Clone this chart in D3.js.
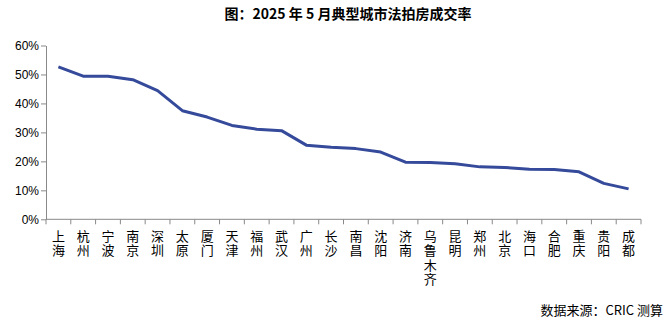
<!DOCTYPE html>
<html><head><meta charset="utf-8">
<script src="https://cdn.jsdelivr.net/npm/d3@7"></script>
<style>body{margin:0;background:#fff}svg{display:block}</style>
</head><body>
<script>
const categories = ["上海","杭州","宁波","南京","深圳","太原","厦门","天津","福州","武汉","广州","长沙","南昌","沈阳","济南","乌鲁木齐","昆明","郑州","北京","海口","合肥","重庆","贵阳","成都"];
const rates = [52.6,49.4,49.4,48.2,44.4,37.5,35.3,32.4,31.1,30.6,25.6,24.9,24.4,23.2,19.7,19.6,19.2,18.1,17.9,17.3,17.2,16.4,12.4,10.5];
const yTicks = [0,10,20,30,40,50,60];
const title = "图：2025 年 5 月典型城市法拍房成交率";
const source = "数据来源：CRIC 测算";

const W = 670, H = 325;
const svg = d3.select("body").append("svg").attr("width", W).attr("height", H);
const font = "'Noto Sans CJK SC', sans-serif";

const x = d3.scaleBand().domain(categories).range([46, 641]);
const y = d3.scaleLinear().domain([0, 60]).range([219.3, 45.5]);

svg.append("text").attr("x", 348).attr("y", 19).attr("text-anchor", "middle")
  .attr("font-family", font).attr("font-weight", "bold").attr("font-size", 14).attr("fill", "#000").text(title);

// y axis
const ya = svg.append("g").attr("transform", "translate(46,0)")
  .call(d3.axisLeft(y).tickValues(yTicks).tickFormat(d => d + "%").tickSize(5).tickSizeOuter(0));
ya.select(".domain").attr("stroke", "#898989");
ya.selectAll(".tick line").attr("stroke", "#898989");
ya.selectAll(".tick text").attr("font-family", "'Liberation Sans', Arial, sans-serif").attr("font-size", 12).attr("fill", "#000").attr("x", -7);

// x axis
const xa = svg.append("g").attr("transform", "translate(0,219.3)");
xa.append("line").attr("x1", 46).attr("x2", 641).attr("stroke", "#898989");
const edges = categories.map(c => x(c)).concat([x.range()[1]]);
xa.selectAll(".edge").data(edges).enter().append("line")
  .attr("x1", d => d).attr("x2", d => d).attr("y1", 0).attr("y2", 5).attr("stroke", "#898989");
xa.selectAll(".lab").data(categories).enter().append("text")
  .attr("font-family", font).attr("font-size", 13).attr("fill", "#000")
  .style("writing-mode", "vertical-rl").attr("letter-spacing", 1.5)
  .attr("x", d => x(d) + x.bandwidth()/2).attr("y", 10).text(d => d);

// line
const line = d3.line().x((d,i) => x(categories[i]) + x.bandwidth()/2).y(d => y(d));
svg.append("path").datum(rates).attr("d", line).attr("fill", "none")
  .attr("stroke", "#354a9a").attr("stroke-width", 3).attr("stroke-linejoin", "round");

svg.append("text").attr("x", 663).attr("y", 315).attr("text-anchor", "end")
  .attr("font-family", font).attr("font-size", 13).attr("fill", "#000").text(source);
</script>
</body></html>
